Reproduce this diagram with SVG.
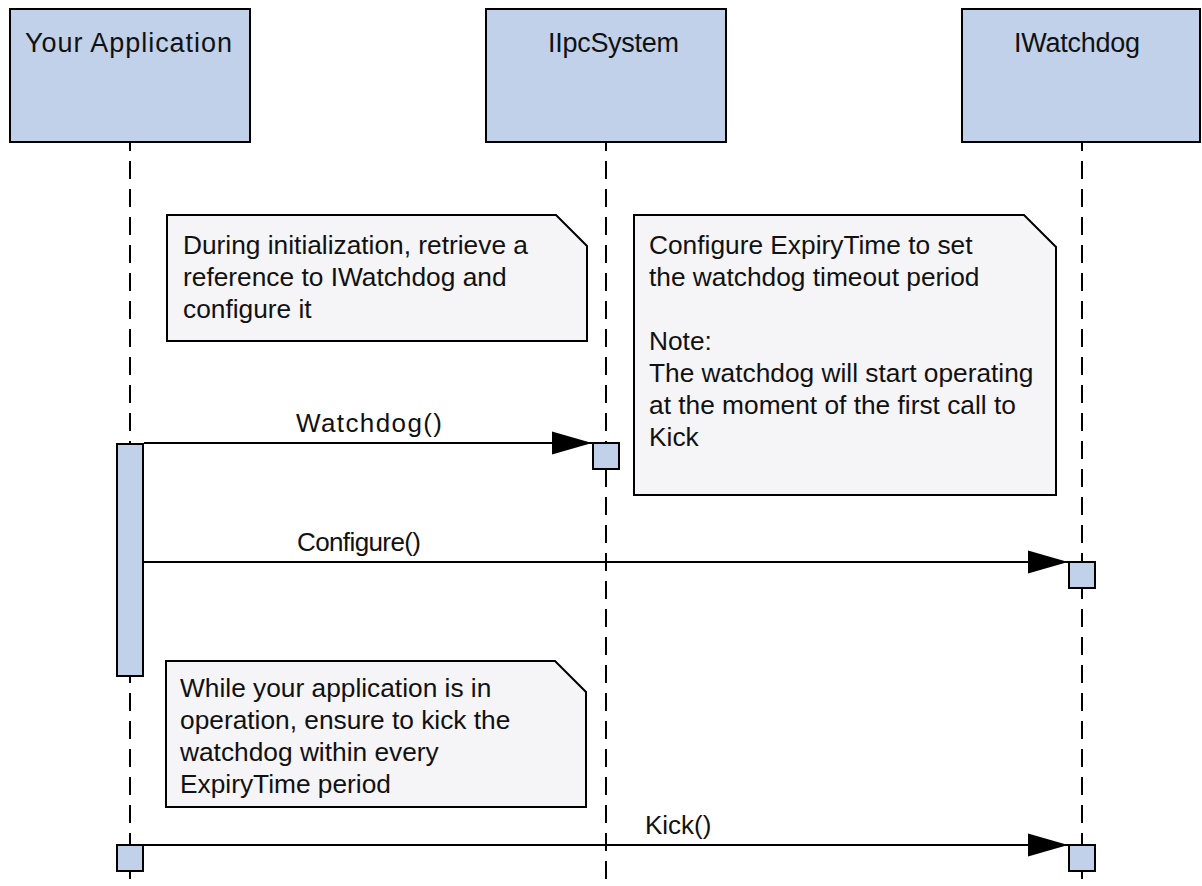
<svg xmlns="http://www.w3.org/2000/svg" width="1202" height="886" viewBox="0 0 1202 886">
  <style>
    .head { fill: #c1d1ea; stroke: #000; stroke-width: 2; }
    .act { fill: #c1d1ea; stroke: #000; stroke-width: 2; }
    .note { fill: #f5f4f7; stroke: #000; stroke-width: 2; stroke-linejoin: miter; }
    .life { stroke: #000; stroke-width: 2; stroke-dasharray: 18 10; stroke-dashoffset: 9; fill: none; }
    .msg { stroke: #000; stroke-width: 2; fill: none; marker-end: url(#arrow); }
    text { font-family: "Liberation Sans", Arial, sans-serif; fill: #111; }
    .title { font-size: 27px; }
    .ntext { font-size: 26.3px; }
    .label { font-size: 26px; }
  </style>
  <defs>
    <marker id="arrow" markerUnits="userSpaceOnUse" markerWidth="40" markerHeight="24" refX="40" refY="12" orient="auto">
      <path d="M0,0.5 L40,12 L0,23.5 Z" fill="#000"/>
    </marker>
  </defs>

  <!-- lifelines -->
  <g id="lifelines">
    <line class="life" x1="130" y1="142" x2="130" y2="886"/>
    <line class="life" x1="606" y1="142" x2="606" y2="886"/>
    <line class="life" x1="1082" y1="142" x2="1082" y2="886"/>
  </g>

  <!-- participants -->
  <g id="your-application">
    <rect class="head" x="10" y="9" width="240" height="133"/>
    <text class="title" x="25" y="52" textLength="207" lengthAdjust="spacing">Your Application</text>
  </g>
  <g id="ipc-system">
    <rect class="head" x="486" y="9" width="240" height="133"/>
    <text class="title" x="548" y="52" textLength="131" lengthAdjust="spacing">IIpcSystem</text>
  </g>
  <g id="watchdog">
    <rect class="head" x="962" y="9" width="238" height="133"/>
    <text class="title" x="1014" y="52" textLength="126" lengthAdjust="spacing">IWatchdog</text>
  </g>

  <!-- notes -->
  <g id="note-init">
    <path class="note" d="M167,215 H556 L587,246 V341 H167 Z"/>
    <text class="ntext" x="183" y="254">During initialization, retrieve a</text>
    <text class="ntext" x="183" y="286">reference to IWatchdog and</text>
    <text class="ntext" x="183" y="318">configure it</text>
  </g>
  <g id="note-config">
    <path class="note" d="M634,215 H1024 L1056,247 V495 H634 Z"/>
    <text class="ntext" x="649" y="254">Configure ExpiryTime to set</text>
    <text class="ntext" x="649" y="286">the watchdog timeout period</text>
    <text class="ntext" x="649" y="350">Note:</text>
    <text class="ntext" x="649" y="382">The watchdog will start operating</text>
    <text class="ntext" x="649" y="414">at the moment of the first call to</text>
    <text class="ntext" x="649" y="446">Kick</text>
  </g>
  <g id="note-kick">
    <path class="note" d="M166,661 H555 L586,692 V807 H166 Z"/>
    <text class="ntext" x="180" y="697">While your application is in</text>
    <text class="ntext" x="180" y="729">operation, ensure to kick the</text>
    <text class="ntext" x="180" y="761">watchdog within every</text>
    <text class="ntext" x="180" y="793">ExpiryTime period</text>
  </g>

  <!-- messages -->
  <g id="connectors">
    <line class="msg" x1="144" y1="443" x2="592" y2="443"/>
    <text class="label" x="296" y="432" textLength="146" lengthAdjust="spacing">Watchdog()</text>
    <line class="msg" x1="144" y1="562" x2="1068" y2="562"/>
    <text class="label" x="297" y="551" textLength="124" lengthAdjust="spacing">Configure()</text>
    <line class="msg" x1="144" y1="845" x2="1068" y2="845"/>
    <text class="label" x="645" y="834">Kick()</text>
  </g>

  <!-- activations -->
  <g id="activations">
    <rect class="act" x="117" y="444" width="26" height="232"/>
    <rect class="act" x="593" y="443" width="26" height="26"/>
    <rect class="act" x="1069" y="562" width="26" height="26"/>
    <rect class="act" x="117" y="845" width="26" height="26"/>
    <rect class="act" x="1069" y="845" width="26" height="26"/>
  </g>
</svg>
